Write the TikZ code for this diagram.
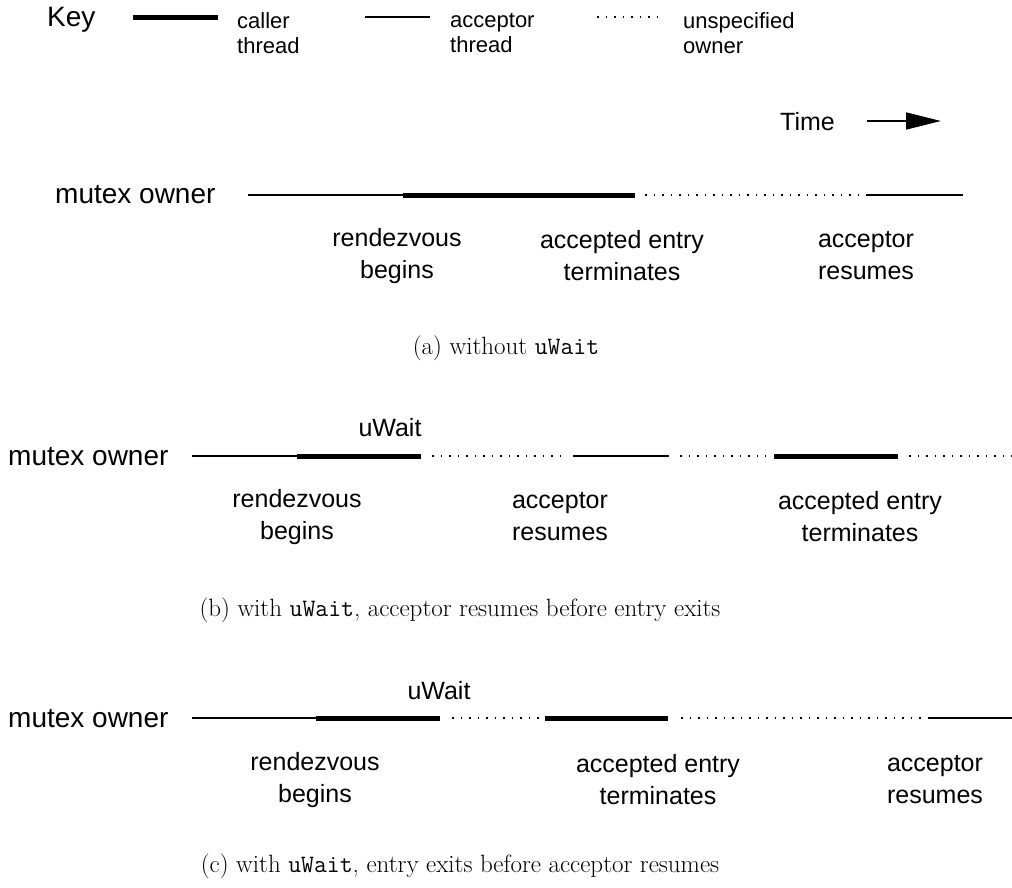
\documentclass[tikz,border=0pt]{standalone}
\usepackage{fontspec}
\newfontfamily\hv{Liberation Sans}
\usetikzlibrary{arrows.meta}
\begin{document}
\begin{tikzpicture}[x=1pt,y=-1pt,
  big/.style={font=\hv\fontsize{28}{32}\selectfont, inner sep=0},
  lbl/.style={font=\hv\fontsize{25}{32}\selectfont, inner sep=0, align=center},
  keylbl/.style={font=\hv\fontsize{22}{25}\selectfont, inner sep=0, align=left, anchor=west},
  captxt/.style={font=\fontsize{25}{30}\selectfont, inner sep=0},
  caller/.style={line width=5pt},
  acceptor/.style={line width=1.3pt},
  unspec/.style={line width=1.5pt, dash pattern=on 1.5pt off 7pt}]
\useasboundingbox (0,0) rectangle (1012,888);

% Key
\node[big, anchor=west] (key) at (47,20) {Key};
\coordinate (k1a) at (133,18); \coordinate (k1b) at (218,18);
\draw[caller] (k1a) -- (k1b);
\node[keylbl] (kcaller) at (237,33) {caller\\thread};
\coordinate (k2a) at (365,17); \coordinate (k2b) at (430,17);
\draw[acceptor] (k2a) -- (k2b);
\node[keylbl] (kacc) at (450,33) {acceptor\\thread};
\coordinate (k3a) at (597,17); \coordinate (k3b) at (662,17);
\draw[unspec] (k3a) -- (k3b);
\node[keylbl] (kuns) at (683,33) {unspecified\\owner};

% Time
\node[lbl, anchor=west] (time) at (780,122) {Time};
\coordinate (t1) at (867,121); \coordinate (t2) at (941,121);
\draw[line width=1.5pt, -{Triangle[length=35pt,width=17pt]}] (t1) -- (t2);

% (a)
\node[big, anchor=west] (ma) at (55,195) {mutex owner};
\coordinate (a0) at (248,195); \coordinate (a1) at (403,195);
\coordinate (a2) at (635,195); \coordinate (a3) at (645,195);
\coordinate (a4) at (866,195); \coordinate (a5) at (963,195);
\draw[acceptor] (a0) -- (a1);
\draw[caller] (a1) -- (a2);
\draw[unspec] (a3) -- (a4);
\draw[acceptor] (a4) -- (a5);
\node[lbl] (ra) at (397,256) {rendezvous\\begins};
\node[lbl] (ea) at (622,256) {accepted entry\\terminates};
\node[lbl] (aa) at (866,256) {acceptor\\resumes};
\node[captxt] (capa) at (506,348) {(a) without \texttt{uWait}};

% (b)
\node[big, anchor=west] (mb) at (8,457) {mutex owner};
\coordinate (b0) at (192,456); \coordinate (b1) at (297,456);
\coordinate (b2) at (421,456); \coordinate (b3) at (432,456);
\coordinate (b4) at (562,456); \coordinate (b5) at (573,456);
\coordinate (b6) at (669,456); \coordinate (b7) at (680,456);
\coordinate (b8) at (766,456); \coordinate (b9) at (774,456);
\coordinate (b10) at (898,456); \coordinate (b11) at (909,456);
\coordinate (b12) at (1012,456);
\draw[acceptor] (b0) -- (b1);
\draw[caller] (b1) -- (b2);
\draw[unspec] (b3) -- (b4);
\draw[acceptor] (b5) -- (b6);
\draw[unspec] (b7) -- (b8);
\draw[caller] (b9) -- (b10);
\draw[unspec] (b11) -- (b12);
\node[lbl] (wb) at (390,428) {uWait};
\node[lbl] (rb) at (297,517) {rendezvous\\begins};
\node[lbl] (ab) at (560,517) {acceptor\\resumes};
\node[lbl] (eb) at (860,517) {accepted entry\\terminates};
\node[captxt] (capb) at (460,610) {(b) with \texttt{uWait}, acceptor resumes before entry exits};

% (c)
\node[big, anchor=west] (mc) at (8,719) {mutex owner};
\coordinate (c0) at (192,718); \coordinate (c1) at (316,718);
\coordinate (c2) at (440,718); \coordinate (c3) at (452,718);
\coordinate (c4) at (540,718); \coordinate (c5) at (545,718);
\coordinate (c6) at (668,718); \coordinate (c7) at (681,718);
\coordinate (c8) at (928,718); \coordinate (c9) at (1012,718);
\draw[acceptor] (c0) -- (c1);
\draw[caller] (c1) -- (c2);
\draw[unspec] (c3) -- (c4);
\draw[caller] (c5) -- (c6);
\draw[unspec] (c7) -- (c8);
\draw[acceptor] (c8) -- (c9);
\node[lbl] (wc) at (439,691) {uWait};
\node[lbl] (rc) at (315,780) {rendezvous\\begins};
\node[lbl] (ec) at (658,780) {accepted entry\\terminates};
\node[lbl] (ac) at (935,780) {acceptor\\resumes};
\node[captxt] (capc) at (460,866) {(c) with \texttt{uWait}, entry exits before acceptor resumes};
\end{tikzpicture}
\end{document}
